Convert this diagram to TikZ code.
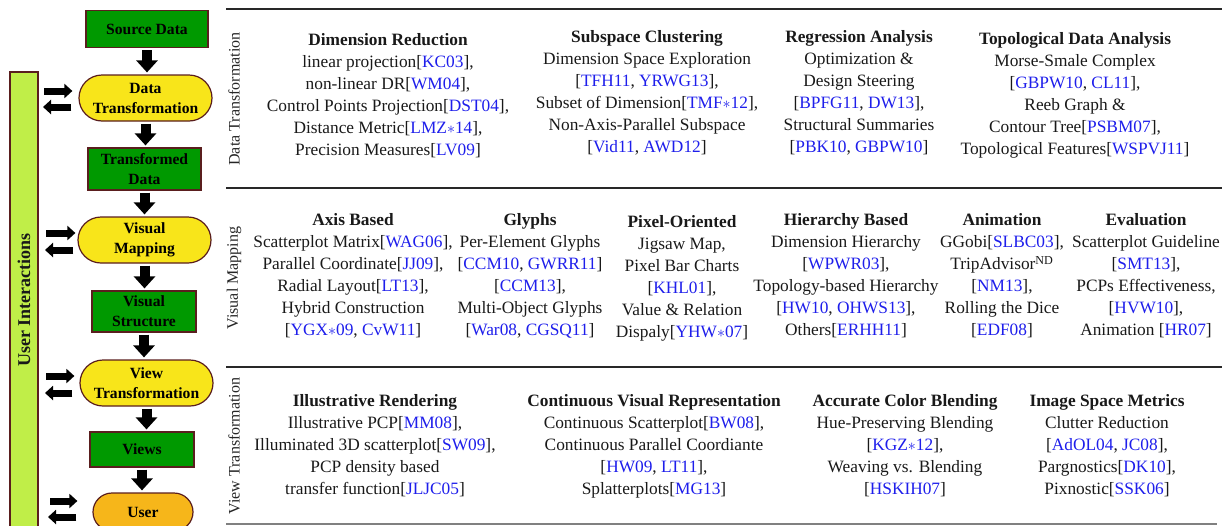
\documentclass[tikz,border=0pt]{standalone}
\usepackage{fontspec}
\setmainfont{Liberation Serif}
\usetikzlibrary{shapes.misc,arrows.meta,calc}
\definecolor{boxgreen}{RGB}{0,153,0}
\definecolor{stadyellow}{RGB}{248,229,26}
\definecolor{userorange}{RGB}{246,182,26}
\definecolor{barlime}{RGB}{192,238,72}
\definecolor{edgebrown}{RGB}{90,30,30}
\definecolor{citeblue}{RGB}{30,30,235}
\definecolor{rulegray}{RGB}{40,40,40}
\newcommand{\cit}[1]{\textcolor{citeblue}{#1}}
\begin{document}
\begin{tikzpicture}[x=0.75pt,y=-0.75pt,
  databox/.style={draw=edgebrown, line width=0.9pt, fill=boxgreen, inner sep=0pt,
    font=\fontsize{11.7}{15}\selectfont\bfseries, align=center},
  procnode/.style={rounded rectangle, draw=edgebrown, line width=0.9pt, fill=stadyellow, inner sep=0pt,
    font=\fontsize{11.7}{15}\selectfont\bfseries, align=center},
  usernode/.style={procnode, fill=userorange},
  barnode/.style={draw=edgebrown, line width=0.9pt, fill=barlime, inner sep=0pt,
    font=\fontsize{13.5}{16}\selectfont\bfseries, text=black!90},
  downarrow/.style={line width=7.5pt, -{Triangle[width=15.75pt,length=9pt]}, shorten <=1.5pt, shorten >=1.5pt},
  sidearrow/.style={line width=5.25pt, -{Triangle[width=10.5pt,length=6pt]}},
  tablerule/.style={draw=rulegray, line width=1.1pt},
  rowlabel/.style={rotate=90, font=\fontsize{12}{14}\selectfont, text=black!85},
  cell/.style={align=center, inner sep=0pt, font=\fontsize{13}{16.5}\selectfont, text=black!90}
]
\useasboundingbox (0,0) rectangle (1230,525);
\clip (0,0) rectangle (1230,525);

% ---------- pipeline ----------
\node[barnode, rotate=90, minimum width=342pt, minimum height=21pt] (ui) at (24,300) {User Interactions};

\node[databox, minimum width=91.5pt, minimum height=27.75pt] (src) at (147,29) {Source Data};
\node[procnode, minimum width=99.75pt, minimum height=34.5pt] (dt) at (145.5,98) {Data\\Transformation};
\node[databox, minimum width=84.75pt, minimum height=31.5pt] (td) at (144.5,169) {Transformed\\Data};
\node[procnode, minimum width=99.75pt, minimum height=34.5pt] (vm) at (144.5,240) {Visual\\Mapping};
\node[databox, minimum width=78pt, minimum height=30.75pt] (vs) at (144,311.5) {Visual\\Structure};
\node[procnode, minimum width=99.75pt, minimum height=34.5pt] (vt) at (146.5,383) {View\\Transformation};
\node[databox, minimum width=78pt, minimum height=26.25pt] (vw) at (142,449.5) {Views};
\node[usernode, minimum width=75pt, minimum height=28.5pt] (usr) at (143,512) {User};

\draw[downarrow] (src.south) -- (src.south |- dt.north);
\draw[downarrow] (dt.south) -- (dt.south |- td.north);
\draw[downarrow] (td.south) -- (td.south |- vm.north);
\draw[downarrow] (vm.south) -- (vm.south |- vs.north);
\draw[downarrow] (vs.south) -- (vs.south |- vt.north);
\draw[downarrow] (vt.south) -- (vt.south |- vw.north);
\draw[downarrow] (vw.south) -- (vw.south |- usr.north);

% interaction arrows
\coordinate (dtR) at (44,91);  \coordinate (dtL) at (43,107);
\coordinate (vmR) at (46,233); \coordinate (vmL) at (45,250);
\coordinate (vtR) at (46,376); \coordinate (vtL) at (45,393);
\coordinate (usR) at (50,501); \coordinate (usL) at (48,517);
\draw[sidearrow, shorten >=4.5pt] (dtR) -- (dtR -| dt.west);
\draw[sidearrow, shorten <=5.25pt] (dtL -| dt.west) -- (dtL);
\draw[sidearrow, shorten >=1.5pt] (vmR) -- (vmR -| vm.west);
\draw[sidearrow, shorten <=3pt] (vmL -| vm.west) -- (vmL);
\draw[sidearrow, shorten >=3.75pt] (vtR) -- (vtR -| vt.west);
\draw[sidearrow, shorten <=5.25pt] (vtL -| vt.west) -- (vtL);
\draw[sidearrow, shorten >=11.25pt] (usR) -- (usR -| usr.west);
\draw[sidearrow, shorten <=12pt] (usL -| usr.west) -- (usL);

% ---------- table ----------
\draw[tablerule] (226,9) -- (1222,9);
\draw[tablerule] (226,188) -- (1222,188);
\draw[tablerule] (226,367) -- (1222,367);
\draw[draw=gray, line width=0.8pt] (226,524) -- (1217,524);

\node[rowlabel] (lab1) at (234,99) {Data Transformation};
\node[rowlabel] (lab2) at (234,278) {Visual Mapping};
\node[rowlabel] (lab3) at (234,446) {View Transformation};

% row 1
\node[cell] (c11) at (388,95.5) {\textbf{Dimension Reduction}\\ linear projection[\cit{KC03}],\\ non-linear DR[\cit{WM04}],\\ Control Points Projection[\cit{DST04}],\\ Distance Metric[\cit{LMZ$\ast$14}],\\ Precision Measures[\cit{LV09}]};
\node[cell] (c12) at (647,92.5) {\textbf{Subspace Clustering}\\ Dimension Space Exploration\\{}[\cit{TFH11}, \cit{YRWG13}],\\ Subset of Dimension[\cit{TMF$\ast$12}],\\ Non-Axis-Parallel Subspace\\{}[\cit{Vid11}, \cit{AWD12}]};
\node[cell] (c13) at (859,93) {\textbf{Regression Analysis}\\ Optimization \&\\ Design Steering\\{}[\cit{BPFG11}, \cit{DW13}],\\ Structural Summaries\\{}[\cit{PBK10}, \cit{GBPW10}]};
\node[cell] (c14) at (1075,95) {\textbf{Topological Data Analysis}\\ Morse-Smale Complex\\{}[\cit{GBPW10}, \cit{CL11}],\\ Reeb Graph \&\\ Contour Tree[\cit{PSBM07}],\\ Topological Features[\cit{WSPVJ11}]};

% row 2
\node[cell] (c21) at (353,276) {\textbf{Axis Based}\\ Scatterplot Matrix[\cit{WAG06}],\\ Parallel Coordinate[\cit{JJ09}],\\ Radial Layout[\cit{LT13}],\\ Hybrid Construction\\{}[\cit{YGX$\ast$09}, \cit{CvW11}]};
\node[cell] (c22) at (530,276) {\textbf{Glyphs}\\ Per-Element Glyphs\\{}[\cit{CCM10}, \cit{GWRR11}]\\{}[\cit{CCM13}],\\ Multi-Object Glyphs\\{}[\cit{War08}, \cit{CGSQ11}]};
\node[cell] (c23) at (682,278) {\textbf{Pixel-Oriented}\\ Jigsaw Map,\\ Pixel Bar Charts\\{}[\cit{KHL01}],\\ Value \& Relation\\ Dispaly[\cit{YHW$\ast$07}]};
\node[cell] (c24) at (846,276) {\textbf{Hierarchy Based}\\ Dimension Hierarchy\\{}[\cit{WPWR03}],\\ Topology-based Hierarchy\\{}[\cit{HW10}, \cit{OHWS13}],\\ Others[\cit{ERHH11}]};
\node[cell] (c25) at (1002,276) {\textbf{Animation}\\ GGobi[\cit{SLBC03}],\\ TripAdvisor\textsuperscript{ND}\\{}[\cit{NM13}],\\ Rolling the Dice\\{}[\cit{EDF08}]};
\node[cell] (c26) at (1146,276) {\textbf{Evaluation}\\ Scatterplot Guideline\\{}[\cit{SMT13}],\\ PCPs Effectiveness,\\{}[\cit{HVW10}],\\ Animation [\cit{HR07}]};

% row 3
\node[cell] (c31) at (375,446) {\textbf{Illustrative Rendering}\\ Illustrative PCP[\cit{MM08}],\\ Illuminated 3D scatterplot[\cit{SW09}],\\ PCP density based\\ transfer function[\cit{JLJC05}]};
\node[cell] (c32) at (654,446) {\textbf{Continuous Visual Representation}\\ Continuous Scatterplot[\cit{BW08}],\\ Continuous Parallel Coordiante\\{}[\cit{HW09}, \cit{LT11}],\\ Splatterplots[\cit{MG13}]};
\node[cell] (c33) at (905,446) {\textbf{Accurate Color Blending}\\ Hue-Preserving Blending\\{}[\cit{KGZ$\ast$12}],\\ Weaving vs. Blending\\{}[\cit{HSKIH07}]};
\node[cell] (c34) at (1107,446) {\textbf{Image Space Metrics}\\ Clutter Reduction\\{}[\cit{AdOL04}, \cit{JC08}],\\ Pargnostics[\cit{DK10}],\\ Pixnostic[\cit{SSK06}]};
\end{tikzpicture}
\end{document}
